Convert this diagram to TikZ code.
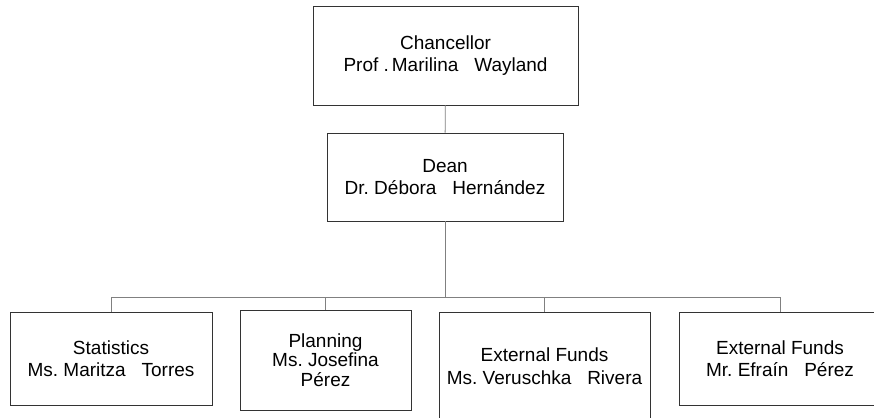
\documentclass[tikz,border=0pt]{standalone}
\usepackage{fontspec}
\setmainfont{Liberation Sans}
\frenchspacing
\begin{document}
\begin{tikzpicture}[x=1pt,y=-1pt,
  orgbox/.style={draw=black!80, line width=0.9pt, rectangle, inner sep=0pt, align=center,
    font=\fontsize{19}{22.5}\selectfont},
  conn/.style={draw=black!50, line width=0.9pt}]
\useasboundingbox (0,0) rectangle (874,417);
\clip (0,0) rectangle (874,417);
\node[orgbox, minimum width=265pt, minimum height=99pt] (chan) at (445.5,55.5)
  {Chancellor\\Prof .\hspace{3pt}Marilina~~ Wayland};
\node[orgbox, minimum width=236pt, minimum height=88pt] (dean) at (445,177)
  {Dean\\Dr. Débora~~ Hernández};
\node[orgbox, minimum width=202pt, minimum height=93pt] (stat) at (111,358.5)
  {Statistics\\Ms. Maritza~~ Torres};
\node[orgbox, minimum width=171pt, minimum height=100pt,
  font=\fontsize{19}{19.5}\selectfont] (plan) at (325.5,360)
  {Planning\\Ms. Josefina\\Pérez};
\node[orgbox, minimum width=211pt, minimum height=108pt] (ver) at (544.5,366)
  {External Funds\\Ms. Veruschka~~ Rivera};
\node[orgbox, minimum width=202pt, minimum height=93pt] (efr) at (780,358.5)
  {External Funds\\Mr. Efraín~~ Pérez};
\coordinate (bus) at (445,297.5);
\draw[conn] (chan) -- (dean);
\draw[conn] (dean.south) -- (bus);
\draw[conn] (bus) -| (stat.north);
\draw[conn] (bus) -| (plan.north);
\draw[conn] (bus) -| (ver.north);
\draw[conn] (bus) -| (efr.north);
\end{tikzpicture}
\end{document}
